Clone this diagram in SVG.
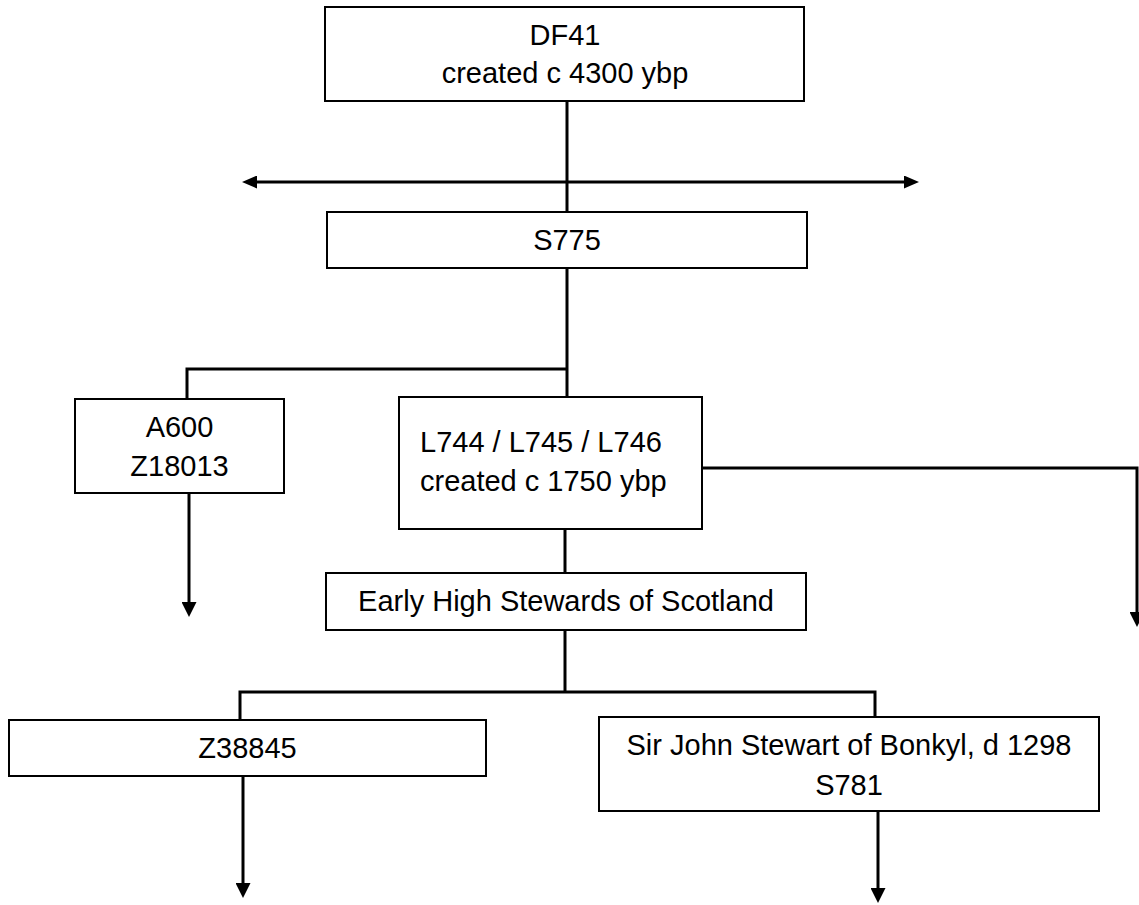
<svg xmlns="http://www.w3.org/2000/svg" width="1139" height="905" viewBox="0 0 1139 905">
  <style>
    .box { fill: #ffffff; stroke: #000000; stroke-width: 2; }
    .lbl { font-family: "Liberation Sans", Arial, sans-serif; font-size: 29px; fill: #000000; }
    .mid { text-anchor: middle; }
    .con { fill: none; stroke: #000000; stroke-width: 3; }
    .arr { marker-end: url(#ah); }
  </style>
  <defs>
    <marker id="ah" markerUnits="userSpaceOnUse" viewBox="0 0 15 15" markerWidth="15" markerHeight="15" refX="3" refY="7.5" orient="auto-start-reverse">
      <path d="M0,0 L15,7.5 L0,15 Z" fill="#000000"/>
    </marker>
    <marker id="ahh" markerUnits="userSpaceOnUse" viewBox="0 0 15 13" markerWidth="15" markerHeight="13" refX="3" refY="6.5" orient="auto-start-reverse">
      <path d="M0,0 L15,6.5 L0,13 Z" fill="#000000"/>
    </marker>
  </defs>

  <g id="connectors">
    <line class="con" x1="567" y1="101" x2="567" y2="397"/>
    <line class="con" x1="254" y1="182" x2="907" y2="182" marker-start="url(#ahh)" marker-end="url(#ahh)"/>
    <polyline class="con" points="567,369 187,369 187,399"/>
    <line class="con arr" x1="189" y1="493" x2="189" y2="605"/>
    <polyline class="con arr" points="702,468 1137,468 1137,615"/>
    <line class="con" x1="565" y1="529" x2="565" y2="573"/>
    <line class="con" x1="565" y1="630" x2="565" y2="692"/>
    <polyline class="con" points="240,720 240,692 875,692 875,717"/>
    <line class="con arr" x1="243" y1="776" x2="243" y2="886"/>
    <line class="con arr" x1="878" y1="812" x2="878" y2="891"/>
  </g>

  <g id="node-df41">
    <rect class="box" x="325" y="7" width="479" height="94"/>
    <text class="lbl mid" x="565" y="45">DF41</text>
    <text class="lbl mid" x="565" y="83">created c 4300 ybp</text>
  </g>

  <g id="node-s775">
    <rect class="box" x="327" y="212" width="480" height="56"/>
    <text class="lbl mid" x="567" y="250">S775</text>
  </g>

  <g id="node-a600">
    <rect class="box" x="75" y="399" width="209" height="94"/>
    <text class="lbl mid" x="179.5" y="437">A600</text>
    <text class="lbl mid" x="179.5" y="476">Z18013</text>
  </g>

  <g id="node-l744">
    <rect class="box" x="399" y="397" width="303" height="132"/>
    <text class="lbl" x="420" y="452">L744 / L745 / L746</text>
    <text class="lbl" x="420" y="491">created c 1750 ybp</text>
  </g>

  <g id="node-early">
    <rect class="box" x="326" y="573" width="480" height="57"/>
    <text class="lbl mid" x="566" y="611">Early High Stewards of Scotland</text>
  </g>

  <g id="node-z38845">
    <rect class="box" x="9" y="720" width="477" height="56"/>
    <text class="lbl mid" x="247.5" y="758">Z38845</text>
  </g>

  <g id="node-bonkyl">
    <rect class="box" x="599" y="717" width="500" height="94"/>
    <text class="lbl mid" x="849" y="755">Sir John Stewart of Bonkyl, d 1298</text>
    <text class="lbl mid" x="849" y="795">S781</text>
  </g>
</svg>
